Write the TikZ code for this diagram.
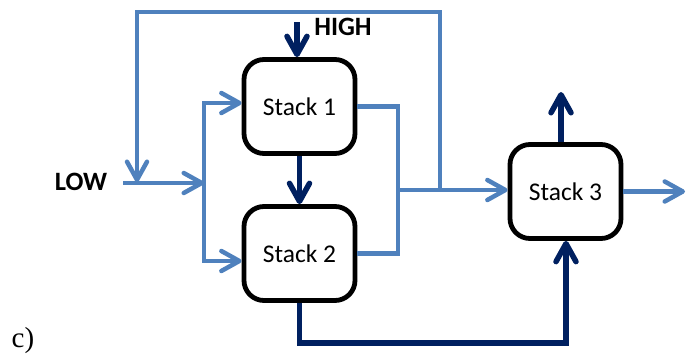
\documentclass[tikz,border=0pt]{standalone}
\usepackage{fontspec}
\setmainfont{Carlito}
\newfontfamily\serifc{Liberation Serif}
\usetikzlibrary{arrows.meta}
\definecolor{lblue}{HTML}{4F81BD}
\definecolor{navy}{HTML}{002060}
\begin{document}
\begin{tikzpicture}[x=1pt,y=-1pt,
  stackbox/.style={draw=black,line width=4.8pt,rounded corners=20pt,minimum width=111pt,minimum height=94pt,inner sep=0pt,font=\fontsize{25.5}{30}\selectfont},
  lb/.style={draw=lblue,line width=4.5pt},
  nv/.style={draw=navy,line width=5.5pt},
  arr/.style={-{Straight Barb[length=18pt,width=20pt,round]}},
  lbl/.style={font=\fontsize{26.5}{30}\selectfont\bfseries,inner sep=0pt}]
\useasboundingbox (0,0) rectangle (686,359);
\node[stackbox] (s1) at (299.5,106.5) {Stack 1};
\node[stackbox] (s2) at (299.5,253.5) {Stack 2};
\node[stackbox] (s3) at (565.5,191.5) {Stack 3};
\node[lbl] (low) at (81,182) {LOW};
\node[lbl] (high) at (343,27) {HIGH};
\node[font=\serifc\fontsize{29}{30}\selectfont,inner sep=0pt] (lab) at (23,341) {c)};
% junction coordinates
\coordinate (ls) at (123,183);
\coordinate (jL) at (204,183);
\coordinate (t1) at (204,103);
\coordinate (t2) at (204,261);
\coordinate (jR) at (398,190);
\coordinate (fb) at (440,190);
\coordinate (fb1) at (440,12);
\coordinate (fb2) at (137,12);
\coordinate (fb3) at (137,182);
\coordinate (out) at (685,192);
\coordinate (hs) at (297,22);
\coordinate (up) at (561,92);
\coordinate (b1) at (566,343);
% light blue
\draw[lb,arr] (ls) -- (jL);
\draw[lb,arr] (jL) -- (t1) -- (t1 -| s1.west);
\draw[lb,arr] (jL) -- (t2) -- (t2 -| s2.west);
\draw[lb,arr] (fb) -- (fb1) -- (fb2) -- (fb3);
\draw[lb] (s1.east) -| (jR);
\draw[lb] (s2.east) -| (jR);
\draw[lb,arr] (jR) -- (jR -| s3.west);
\draw[lb,arr] (s3.east) -- (s3.east -| out);
% navy
\draw[nv,arr] (hs) -- (hs |- s1.north);
\draw[nv,arr] (s1.south) -- (s2.north);
\draw[nv,arr] (up |- s3.north) -- (up);
\draw[nv,arr] (s2.south) |- (b1) -- (b1 |- s3.south);
\end{tikzpicture}
\end{document}
